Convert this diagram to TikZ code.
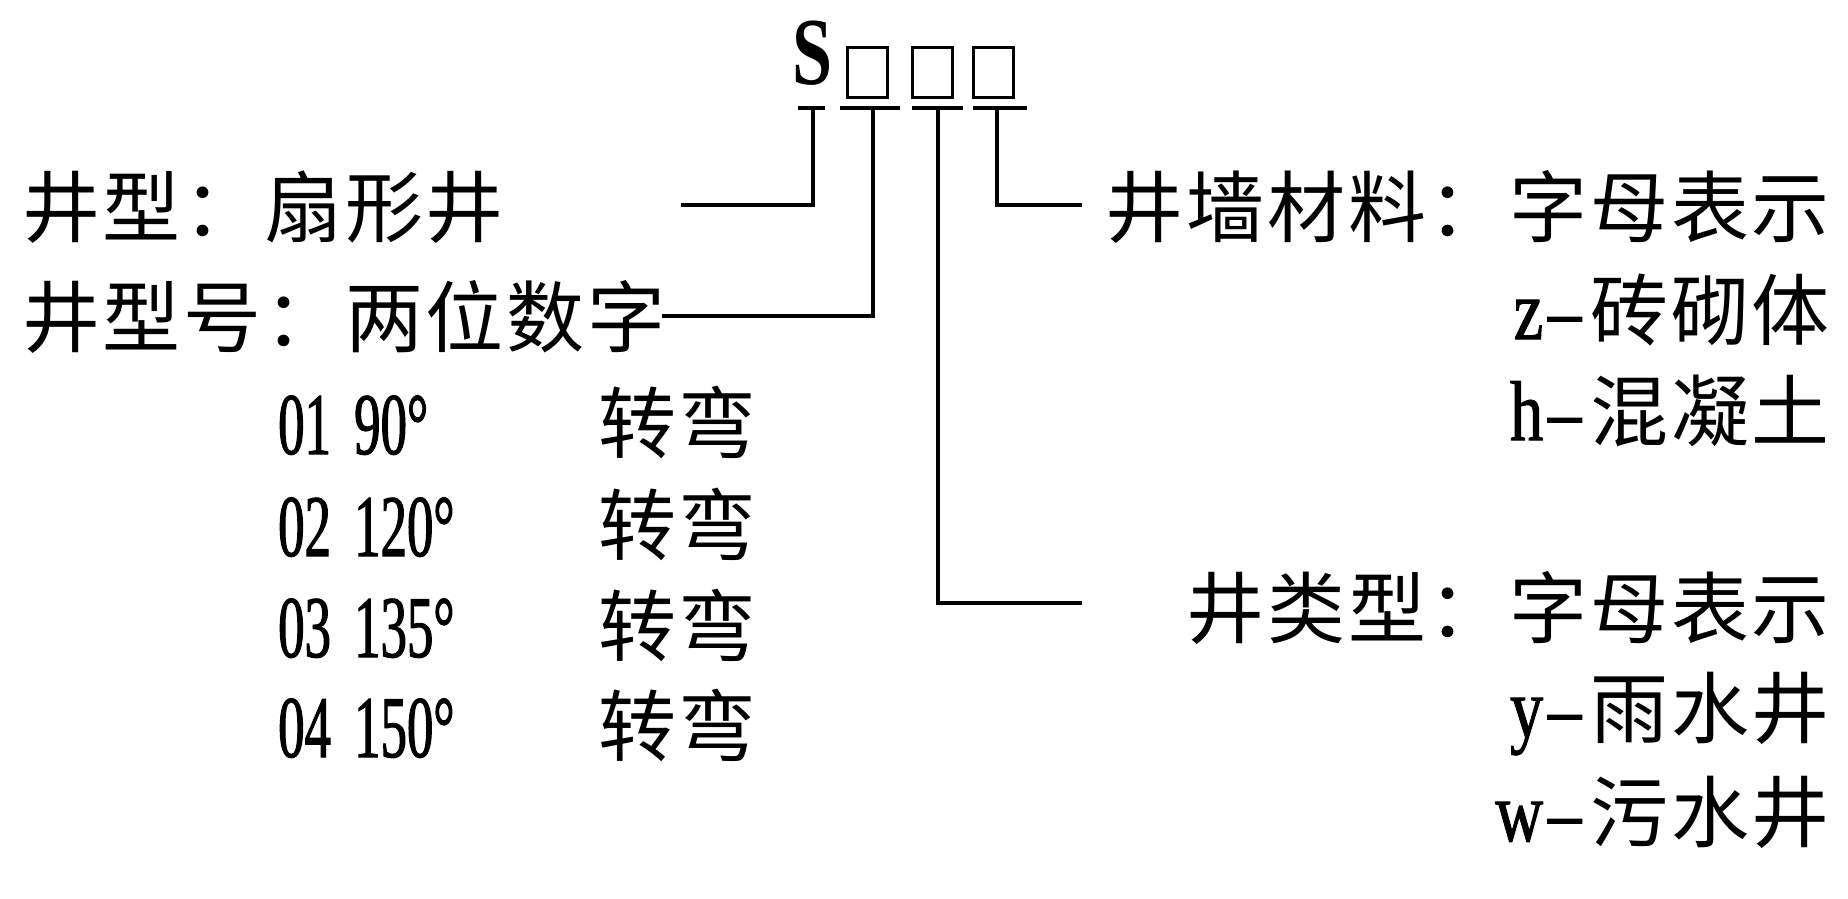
\documentclass[tikz,border=0pt]{standalone}
\usepackage{fontspec}
\setmainfont{Liberation Serif}[FakeStretch=0.75]
\newfontfamily\numf{Liberation Serif}[FakeStretch=0.6, FakeBold=1.2]
\newfontfamily\ltrf{Liberation Serif}[FakeStretch=0.78, FakeBold=1.2]
\newfontfamily\cjk{Noto Sans CJK SC}[LetterSpace=3.5]
\newcommand{\zh}[1]{{\cjk\fontsize{78}{80}\selectfont #1}}
\newcommand{\lt}[1]{{\numf\fontsize{88}{90}\selectfont #1}}
\newcommand{\lr}[1]{{\ltrf\fontsize{85}{90}\selectfont #1}}
\tikzset{
  lbl/.style={inner sep=0pt, anchor=base west},
  rlbl/.style={inner sep=0pt, anchor=base east},
  ln/.style={line width=3.2pt},
  ul/.style={line width=4pt},
  bx/.style={draw, line width=2.6pt, inner sep=0pt, minimum width=40pt, minimum height=50pt}
}
\begin{document}
\begin{tikzpicture}[x=1pt,y=-1pt]
\useasboundingbox (0,0) rectangle (1848,898);
% code head
\node[lbl] (S) at (792,84) {{\bfseries\fontsize{96}{100}\selectfont S}};
\node[bx] (b1) at (867.5,72.5) {};
\node[bx] (b2) at (932.5,72.5) {};
\node[bx] (b3) at (993.5,72.5) {};
% underlines
\draw[ul] (798,108) -- (825,108);
\draw[ul] (840,108) -- (900,108);
\draw[ul] (912,108) -- (963,108);
\draw[ul] (973,108) -- (1027,108);
\coordinate (u0) at (813,108);
\coordinate (u1) at (873,108);
\coordinate (u2) at (938,108);
\coordinate (u3) at (997,108);
\coordinate (e0) at (681,205);
\coordinate (e1) at (662,316);
\coordinate (e2) at (1082,603);
\coordinate (e3) at (1082,205);
\draw[ln] (u0) |- (e0);
\draw[ln] (u1) |- (e1);
\draw[ln] (u2) |- (e2);
\draw[ln] (u3) |- (e3);
% left labels
\node[lbl] (L1) at (22,236) {\zh{井型：扇形井}};
\node[lbl] (L2) at (22,346) {\zh{井型号：两位数字}};
\node[lbl] (n1) at (278,454) {\lt{01}};
\node[lbl] (d1) at (354,454) {\lt{90°}};
\node[lbl] (t1) at (598,452) {\zh{转弯}};
\node[lbl] (n2) at (278,556) {\lt{02}};
\node[lbl] (d2) at (354,556) {\lt{120°}};
\node[lbl] (t2) at (598,554) {\zh{转弯}};
\node[lbl] (n3) at (278,657) {\lt{03}};
\node[lbl] (d3) at (354,657) {\lt{135°}};
\node[lbl] (t3) at (598,655) {\zh{转弯}};
\node[lbl] (n4) at (278,757) {\lt{04}};
\node[lbl] (d4) at (354,757) {\lt{150°}};
\node[lbl] (t4) at (598,755) {\zh{转弯}};
% right labels
\node[rlbl] (R1) at (1830,236) {\zh{井墙材料：字母表示}};
\node[rlbl] (R2) at (1830,339) {\lr{z\hspace{5pt}–\hspace{9pt}}\zh{砖砌体}};
\node[rlbl] (R3) at (1830,440) {\lr{h\hspace{5pt}–\hspace{9pt}}\zh{混凝土}};
\node[rlbl] (R4) at (1830,637) {\zh{井类型：字母表示}};
\node[rlbl] (R5) at (1830,737) {\lr{y\hspace{5pt}–\hspace{9pt}}\zh{雨水井}};
\node[rlbl] (R6) at (1830,841) {\lr{w\hspace{5pt}–\hspace{9pt}}\zh{污水井}};
\end{tikzpicture}
\end{document}
